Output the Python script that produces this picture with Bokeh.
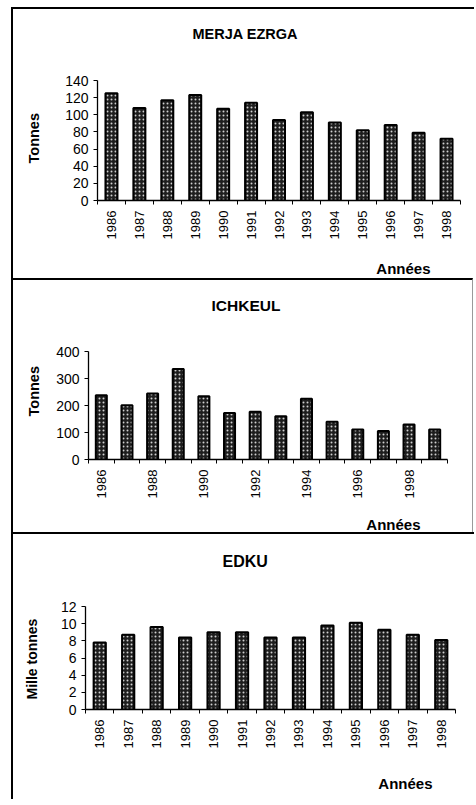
import numpy as np
from bokeh.plotting import figure
from bokeh.models import Range1d, FixedTicker, Title, LinearAxis
from bokeh.embed import file_html
from bokeh.resources import INLINE

# ---------------- data ----------------
years_merja = [1986, 1987, 1988, 1989, 1990, 1991, 1992, 1993, 1994, 1995, 1996, 1997, 1998]
tonnes_merja = [125, 108, 117, 123, 107, 114, 94, 103, 91, 82, 88, 79, 72]
yticks_merja = [0, 20, 40, 60, 80, 100, 120, 140]

years_ichkeul = [1986, 1987, 1988, 1989, 1990, 1991, 1992, 1993, 1994, 1995, 1996, 1997, 1998, 1999]
tonnes_ichkeul = [238, 201, 244, 335, 234, 172, 177, 160, 225, 140, 111, 106, 130, 111]
labelled_years_ichkeul = [1986, 1988, 1990, 1992, 1994, 1996, 1998]
yticks_ichkeul = [0, 100, 200, 300, 400]

years_edku = [1986, 1987, 1988, 1989, 1990, 1991, 1992, 1993, 1994, 1995, 1996, 1997, 1998]
milletonnes_edku = [7.8, 8.7, 9.6, 8.4, 9.0, 9.0, 8.4, 8.4, 9.8, 10.1, 9.3, 8.7, 8.1]
yticks_edku = [0, 2, 4, 6, 8, 10, 12]

FONT = "Liberation Sans"


def spacer(p, side, px, tick):
    # an axis with one white (invisible) tick and no labels, reserving px pixels
    ax = LinearAxis(ticker=FixedTicker(ticks=tick), axis_line_color=None,
                    major_tick_out=px, major_tick_in=0,
                    major_tick_line_color="white",
                    minor_tick_line_color=None, minor_tick_out=0, minor_tick_in=0,
                    major_label_standoff=0, major_label_text_font_size="0px",
                    major_label_text_color=None)
    p.add_layout(ax, side)


def text_title(p, side, text, size, align, offset):
    p.add_layout(Title(text=text, align=align, offset=offset,
                       vertical_align="bottom", standoff=0,
                       text_font=FONT, text_font_style="bold",
                       text_font_size=size, text_color="black"), side)


def make(years, values, labelled, yticks, width, height, mb, margin, styles,
         title, title_size, title_off, title_sp,
         ylabel, ylab_size, ylab_off, ylab_sp, xlab_off, xlab_sp):
    x0 = years[0] - 0.5
    x1 = years[-1] + 0.5
    p = figure(width=width, height=height, output_backend="svg",
               toolbar_location=None, tools="",
               x_range=Range1d(x0, x1), y_range=Range1d(0, yticks[-1]),
               min_border_left=mb[0], min_border_right=mb[1],
               min_border_top=mb[2], min_border_bottom=mb[3],
               margin=margin, styles=styles)
    p.outline_line_color = None
    p.grid.visible = False

    p.vbar(x=years, top=values, width=0.43, bottom=0,
           fill_color="#1e1e1e", line_color="black", line_width=2,
           hatch_pattern="dot", hatch_color="#cfcfcf", hatch_scale=4,
           hatch_weight=1)

    xa = p.xaxis[0]
    boundaries = [y - 0.5 for y in years] + [years[-1] + 0.5]
    xa.ticker = FixedTicker(ticks=labelled, minor_ticks=boundaries)
    xa.major_tick_line_color = None
    xa.major_tick_out = 4
    xa.major_tick_in = 0
    xa.minor_tick_line_color = "black"
    xa.minor_tick_out = 4
    xa.minor_tick_in = 0
    xa.major_label_orientation = np.pi / 2
    xa.major_label_standoff = 6
    xa.axis_line_color = "black"
    xa.axis_line_width = 1.3
    xa.major_label_text_font = FONT
    xa.major_label_text_font_size = "13px"
    xa.major_label_text_color = "black"

    ya = p.yaxis[0]
    ya.ticker = FixedTicker(ticks=yticks)
    ya.minor_tick_line_color = None
    ya.major_tick_out = 4
    ya.major_tick_in = 0
    ya.major_label_standoff = 5
    ya.axis_line_color = "black"
    ya.axis_line_width = 1.3
    ya.major_label_text_font = FONT
    ya.major_label_text_font_size = "14px"
    ya.major_label_text_color = "black"

    spacer(p, "above", title_sp, [years[0]])
    text_title(p, "above", title, title_size, "left", title_off)
    spacer(p, "left", ylab_sp, [yticks[0]])
    text_title(p, "left", ylabel, ylab_size, "left", ylab_off)
    spacer(p, "below", xlab_sp, [years[0]])
    text_title(p, "below", "Années", "15px", "right", xlab_off)
    return p


p1 = make(years_merja, tonnes_merja, years_merja, yticks_merja,
          width=463, height=271, mb=(84, 16, 71, 80), margin=(7, 0, 0, 11),
          styles={"border-top": "2px solid black", "border-left": "2px solid black"},
          title="MERJA EZRGA", title_size="14.5px", title_off=95, title_sp=39,
          ylabel="Tonnes", ylab_size="14.5px", ylab_off=37, ylab_sp=21,
          xlab_off=30, xlab_sp=15)

p2 = make(years_ichkeul, tonnes_ichkeul, labelled_years_ichkeul, yticks_ichkeul,
          width=462, height=254, mb=(75, 28, 71, 75), margin=(0, 0, 0, 11),
          styles={"border-top": "2px solid black", "border-left": "2px solid black",
                  "border-right": "1px solid #9a9a9a"},
          title="ICHKEUL", title_size="15.5px", title_off=123, title_sp=38,
          ylabel="Tonnes", ylab_size="14.5px", ylab_off=43, ylab_sp=12,
          xlab_off=27, xlab_sp=12)

p3 = make(years_edku, milletonnes_edku, years_edku, yticks_edku,
          width=463, height=267, mb=(72, 21, 72, 92), margin=(0, 0, 0, 11),
          styles={"border-top": "2px solid black", "border-left": "2px solid black"},
          title="EDKU", title_size="16px", title_off=137, title_sp=37,
          ylabel="Mille tonnes", ylab_size="14px", ylab_off=10, ylab_sp=18,
          xlab_off=23, xlab_sp=21)

open("out.html", "w").write(file_html([p1, p2, p3], INLINE))
